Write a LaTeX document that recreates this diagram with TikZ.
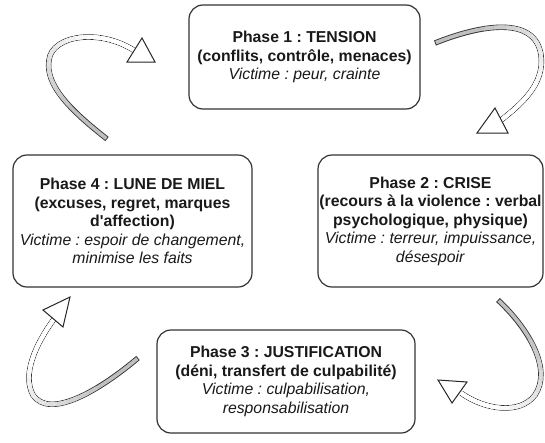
\documentclass[tikz,border=0pt]{standalone}
\usepackage{fontspec}
\setmainfont{Liberation Sans}[Ligatures=TeXOff]
\frenchspacing
\begin{document}
\begin{tikzpicture}[x=1pt,y=-1pt,
  phasebox/.style={draw=black!80, line width=1.2pt, rounded corners=14pt, fill=white,
    align=center, text=black!90, inner sep=0pt,
    font=\fontsize{15.8}{18.5}\selectfont},
  shaftout/.style={draw=black!80, line width=5.4pt, line cap=butt},
  shaftin/.style={draw=black!25, line width=3.6pt, line cap=butt, shorten <=0.9pt},
  headtri/.style={draw=black!85, line width=1pt, fill=white, line join=miter}]
\useasboundingbox (0,0) rectangle (545,442);
\newcommand\myshaft[1]{\draw[shaftout] #1; \draw[shaftin] #1;
  \foreach \k in {1,...,10}{
    \pgfmathsetmacro\myoff{40+11*\k}
    \pgfmathsetmacro\mycol{25-2.5*\k}
    \draw[line width=3.6pt, line cap=butt, draw=black!\mycol, dash pattern=on 0pt off \myoff pt on 1000pt] #1;}}

% boxes
\node[phasebox, minimum width=231pt, minimum height=104pt] (p1) at (304.5,57)
  {\textbf{Phase 1 : TENSION}\\ \textbf{(conflits, contrôle, menaces)}\\ \textit{Victime : peur, crainte}};
\node[phasebox, minimum width=225pt, minimum height=132pt] (p2) at (430.5,221)
  {\textbf{Phase 2 : CRISE}\\ \textbf{(recours à la violence : verbal}\\ \textbf{psychologique, physique)}\\ \textit{Victime : terreur, impuissance,}\\ \textit{désespoir}};
\node[phasebox, minimum width=258pt, minimum height=103pt] (p3) at (286,381.5)
  {\textbf{Phase 3 : JUSTIFICATION}\\ \textbf{(déni, transfert de culpabilité)}\\ \textit{Victime : culpabilisation,}\\ \textit{responsabilisation}};
\node[phasebox, minimum width=239pt, minimum height=132pt] (p4) at (132.5,221)
  {\textbf{Phase 4 : LUNE DE MIEL}\\ \textbf{(excuses, regret, marques}\\ \textbf{d'affection)}\\ \textit{Victime : espoir de changement,}\\ \textit{minimise les faits}};

% arrow coordinates
\coordinate (t1) at (107,139); \coordinate (m1) at (49,60); \coordinate (e1) at (135,51);
\coordinate (t2) at (435,43);  \coordinate (m2) at (541,55); \coordinate (e2) at (500,121);
\coordinate (t3) at (498,300); \coordinate (m3) at (535,395); \coordinate (e3) at (461,393);
\coordinate (t4) at (138,358); \coordinate (m4) at (33,395); \coordinate (e4) at (54,319);

% arrow 4 -> 1 (top left)
\myshaft{(t1) .. controls (70,110) and (45,85) .. (m1) .. controls (52,35) and (100,28) .. (e1)}
\draw[headtri] (142,38) -- (155,62) -- (127,62) -- cycle;
% arrow 1 -> 2 (top right)
\myshaft{(t2) .. controls (480,25) and (535,15) .. (m2) .. controls (545,85) and (520,105) .. (e2)}
\draw[headtri] (495,108) -- (508,133) -- (477,133) -- cycle;
% arrow 2 -> 3 (bottom right)
\myshaft{(t3) .. controls (530,330) and (552,370) .. (m3) .. controls (520,415) and (485,410) .. (e3)}
\draw[headtri] (438,380) -- (467,382) -- (452,403) -- cycle;
% arrow 3 -> 4 (bottom left)
\myshaft{(t4) .. controls (100,390) and (50,420) .. (m4) .. controls (22,375) and (35,345) .. (e4)}
\draw[headtri] (70,297) -- (43,310) -- (63,327) -- cycle;
\end{tikzpicture}
\end{document}
